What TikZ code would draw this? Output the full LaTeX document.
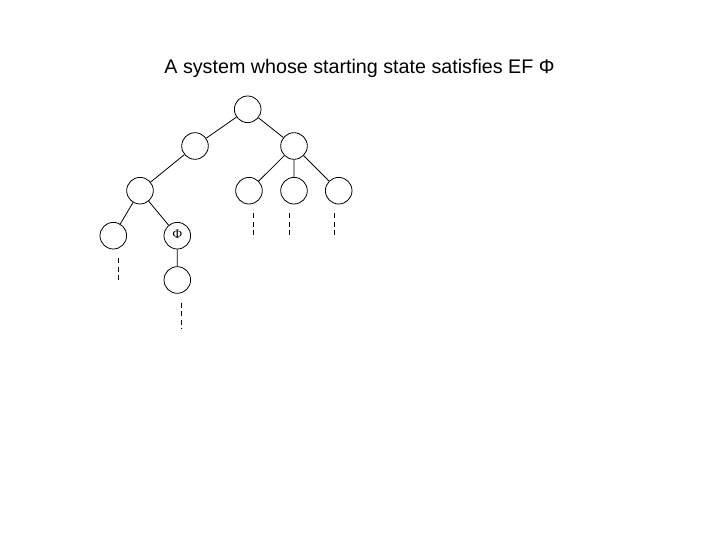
\documentclass[tikz,border=0pt]{standalone}
\usepackage{fontspec}
\setmainfont{Liberation Sans}
\newfontfamily\phifont{Liberation Serif}
\tikzset{st/.style={circle,draw,minimum size=26.6pt,inner sep=0pt},
  tail/.style={dash pattern=on 5pt off 3.5pt}}
\begin{document}
\begin{tikzpicture}[x=1pt,y=-1pt,line width=.8pt]
      \useasboundingbox(0,0)rectangle(720,540);
      \node at(359.5,68){\fontsize{19.7}{24}\selectfont A system whose starting state satisfies EF Φ};
      % the tree
      \node[st](r)at(247.7,109.3){};
      \node[st](a)at(195,146){};
      \node[st](b)at(294,146){};
      \node[st](aa)at(140,190.7){};
      \node[st](ba)at(249,190.7){};
      \node[st](bb)at(294,190.7){};
      \node[st](bc)at(338.7,190.7){};
      \node[st](aaa)at(113.3,235.7){};
      \node[st](aab)at(177.3,235.7){\raisebox{2pt}{\phifont\fontsize{13}{15}\selectfont Φ}\hspace{3pt}};
      \node[st](aaba)at(177.3,280){};
      \draw(r)--(a) (r)--(b) (a)--(aa) (b)--(ba) (b)--(bb) (b)--(bc)
           (aa)--(aaa) (aa)--(aab) (aab)--(aaba);
      % paths go on
      \coordinate(t1)at(253.3,238.3);
      \coordinate(t2)at(289.3,238.3);
      \coordinate(t3)at(334.3,238.3);
      \coordinate(t4)at(118.3,283.3);
      \coordinate(t5)at(181.7,328.3);
      \draw[tail](253.3,213.3)--(t1) (289.3,213.3)--(t2) (334.3,213.3)--(t3)
                 (118.3,258.3)--(t4) (181.7,302.7)--(t5);
    \end{tikzpicture}
\end{document}
